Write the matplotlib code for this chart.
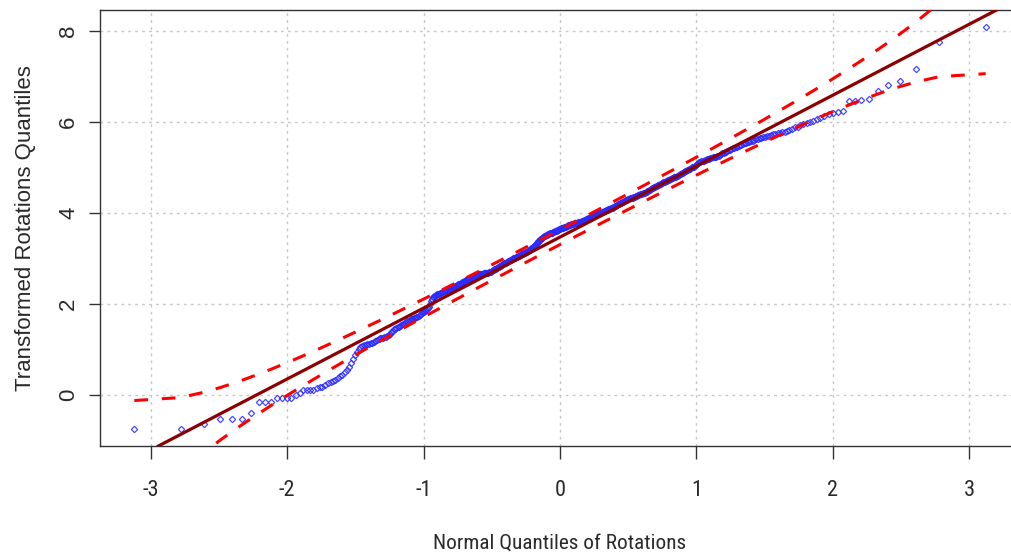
import numpy as np
import matplotlib
matplotlib.use("Agg")
import matplotlib.pyplot as plt
from statistics import NormalDist

# Transformed rotation values (sorted sample)
rotations_transformed = [
    -0.75, -0.75, -0.64, -0.53, -0.53, -0.53, -0.39, -0.15, -0.15, -0.15,
    -0.06, -0.06, -0.06, -0.06, 0.00, 0.05, 0.10, 0.12, 0.12, 0.12,
    0.15, 0.18, 0.18, 0.22, 0.27, 0.29, 0.31, 0.34, 0.38, 0.42,
    0.45, 0.50, 0.55, 0.62, 0.70, 0.80, 0.88, 0.95, 1.02, 1.06,
    1.08, 1.10, 1.11, 1.12, 1.13, 1.14, 1.15, 1.17, 1.19, 1.21,
    1.23, 1.25,
    1.26, 1.26, 1.27, 1.28, 1.30, 1.32, 1.35, 1.38, 1.41, 1.44, 1.46, 1.47,
    1.49, 1.50, 1.52, 1.54, 1.55, 1.57, 1.59, 1.60, 1.62, 1.63, 1.65,
    1.66, 1.67, 1.68, 1.69, 1.70, 1.71, 1.72, 1.74, 1.76, 1.78, 1.80, 1.82, 1.83,
    1.85, 1.87, 1.89, 1.92, 1.94,
    2.00, 2.06, 2.11, 2.16,
    2.17, 2.18, 2.19, 2.20, 2.21, 2.22, 2.23, 2.24,
    2.25, 2.26, 2.27, 2.28, 2.29, 2.30, 2.30, 2.31, 2.32, 2.32, 2.33, 2.34, 2.35, 2.36, 2.37,
    2.38, 2.39, 2.40, 2.41, 2.42, 2.43, 2.44, 2.45, 2.46, 2.47,
    2.48, 2.49, 2.50, 2.51, 2.52, 2.53, 2.54, 2.55, 2.55, 2.56,
    2.57, 2.57, 2.58, 2.59, 2.60, 2.61, 2.62, 2.62, 2.63, 2.64,
    2.65, 2.66, 2.66, 2.66, 2.67, 2.67, 2.67, 2.67, 2.68, 2.68,
    2.68, 2.68, 2.69, 2.69, 2.69, 2.70, 2.70, 2.70,
    2.71, 2.72, 2.73, 2.74, 2.75, 2.76, 2.77, 2.78, 2.79, 2.80,
    2.81, 2.82, 2.82, 2.83, 2.84, 2.85, 2.86, 2.87, 2.88, 2.89,
    2.90, 2.91, 2.91, 2.92, 2.93, 2.94, 2.94, 2.95,
    2.96, 2.97, 2.97, 2.98, 2.99, 3.00, 3.00, 3.01, 3.02, 3.03,
    3.03, 3.04, 3.05, 3.06, 3.06, 3.07, 3.08, 3.09, 3.09, 3.10,
    3.11, 3.12, 3.12, 3.13, 3.14, 3.15, 3.15, 3.16, 3.17, 3.18,
    3.18, 3.19,
    3.20, 3.22, 3.23, 3.25, 3.26, 3.28, 3.29, 3.30, 3.32, 3.33,
    3.35, 3.36, 3.38, 3.39, 3.41, 3.42, 3.43, 3.45, 3.46, 3.47, 3.48,
    3.49, 3.49, 3.50, 3.51, 3.51, 3.52, 3.53, 3.53, 3.54, 3.55,
    3.55, 3.56, 3.57, 3.57, 3.58, 3.59, 3.59, 3.60, 3.60, 3.61, 3.61, 3.62,
    3.63, 3.63, 3.64, 3.64, 3.65, 3.66, 3.66, 3.67, 3.67, 3.68,
    3.69, 3.69, 3.70, 3.70, 3.71, 3.72, 3.72, 3.73, 3.73, 3.74,
    3.74, 3.75, 3.75, 3.76, 3.76, 3.76, 3.77, 3.77, 3.78, 3.78,
    3.78, 3.79, 3.79, 3.80, 3.80, 3.80, 3.81, 3.81, 3.82, 3.82, 3.82, 3.83,
    3.84, 3.84, 3.85, 3.86, 3.86, 3.87, 3.88, 3.89, 3.89, 3.90,
    3.91, 3.91, 3.92, 3.93, 3.93, 3.94, 3.94, 3.95, 3.95, 3.96, 3.96,
    3.97, 3.98, 3.98, 3.99, 4.00, 4.00, 4.01, 4.02, 4.02, 4.03,
    4.04, 4.04, 4.05, 4.06, 4.06, 4.07, 4.08, 4.08, 4.09, 4.09, 4.10,
    4.11, 4.12, 4.12, 4.13, 4.14, 4.15, 4.16, 4.16, 4.17, 4.18,
    4.19, 4.20, 4.20, 4.21, 4.22, 4.23, 4.24, 4.24, 4.25, 4.26,
    4.27, 4.28, 4.28, 4.29,
    4.30, 4.30, 4.31, 4.32, 4.32, 4.33, 4.34, 4.34, 4.35, 4.36,
    4.36, 4.37, 4.38, 4.38, 4.39, 4.40, 4.40, 4.41, 4.41, 4.42,
    4.42, 4.43, 4.43,
    4.44, 4.45, 4.46, 4.47, 4.48, 4.49, 4.50, 4.51, 4.52, 4.53,
    4.54, 4.55, 4.56, 4.57, 4.58, 4.59, 4.60, 4.61, 4.61, 4.62,
    4.63, 4.64, 4.65, 4.66, 4.67, 4.68, 4.69, 4.70, 4.71, 4.72,
    4.72, 4.73, 4.74, 4.75, 4.76, 4.77, 4.78, 4.79, 4.79, 4.80,
    4.81, 4.82, 4.83, 4.85, 4.86, 4.87, 4.88, 4.89, 4.90, 4.92,
    4.93, 4.94, 4.95, 4.96, 4.97, 4.99, 5.00, 5.01, 5.02,
    5.04, 5.06, 5.08, 5.10, 5.12, 5.13,
    5.14, 5.15, 5.15, 5.16, 5.17, 5.18, 5.19, 5.19, 5.20, 5.21,
    5.22, 5.22, 5.23, 5.24, 5.25,
    5.26, 5.28, 5.29, 5.31, 5.32, 5.34, 5.35, 5.37, 5.38, 5.39, 5.41, 5.42,
    5.43, 5.45, 5.46, 5.48, 5.49, 5.50, 5.52, 5.53, 5.54, 5.56, 5.57,
    5.58, 5.59, 5.61, 5.62, 5.63, 5.64, 5.65, 5.67, 5.68,
    5.69, 5.70, 5.72, 5.73, 5.74, 5.75, 5.76, 5.78, 5.79,
    5.81, 5.83, 5.85, 5.88, 5.90, 5.93,
    5.95, 5.98, 6.01, 6.03, 6.06,
    6.09, 6.13, 6.17, 6.20, 6.22, 6.23,
    6.45, 6.45, 6.48, 6.50, 6.69, 6.81, 6.89, 7.16, 7.75, 8.09,
]

x_ticks = [-3, -2, -1, 0, 1, 2, 3]
y_ticks = [0, 2, 4, 6, 8]

# Reference line and envelope settings
line_intercept = 3.47
line_slope = 1.56
conf_level = 0.95

x_label = "Normal Quantiles of Rotations"
y_label = "Transformed Rotations Quantiles"

plt.rcParams["axes.unicode_minus"] = False
plt.rcParams["font.family"] = ["Liberation Sans", "DejaVu Sans"]
narrow = ["Liberation Sans Narrow", "Arial Narrow", "Roboto Condensed",
          "PT Sans Narrow", "Archivo Narrow", "Liberation Sans", "DejaVu Sans"]

# Theoretical normal quantiles and pointwise confidence envelope
y = np.sort(np.asarray(rotations_transformed, dtype=float))
n = len(y)
nd = NormalDist()
probs = (np.arange(1, n + 1) - 0.5) / n
z = np.array([nd.inv_cdf(p) for p in probs])
fit = line_intercept + line_slope * z
zz = nd.inv_cdf(1 - (1 - conf_level) / 2)
dens = np.array([nd.pdf(v) for v in z])
se = (line_slope / dens) * np.sqrt(probs * (1 - probs) / n)
upper = fit + zz * se
lower = fit - zz * se

W, H = 1012, 556
fig = plt.figure(figsize=(W / 100, H / 100), dpi=100)
ax = fig.add_axes([100 / W, 110 / H, 920 / W, 436 / H])

ax.set_xlim(-3.37, 3.37)
ax.set_ylim(-1.12, 8.46)
ax.set_xticks(x_ticks)
ax.set_yticks(y_ticks)

ax.grid(True, color="#c8c8c8", linestyle=(0, (2, 3)), linewidth=1.0)
ax.set_axisbelow(True)

ax.plot(z, y, linestyle="none", marker="D", ms=3.2, mfc="none",
        mec="#2a2aff", mew=0.9, alpha=0.85, zorder=3)
ax.axline((0, line_intercept), slope=line_slope, color="#8b0000", lw=2.3, zorder=4)
ax.plot(z, upper, color="#ff0000", lw=2.2, dashes=(4.5, 4.5), zorder=5)
ax.plot(z, lower, color="#ff0000", lw=2.2, dashes=(4.5, 4.5), zorder=5)

for s in ax.spines.values():
    s.set_color("#333333")
    s.set_linewidth(1.0)

ax.tick_params(axis="x", length=9.5, width=1.0, color="#333333", pad=15,
               labelsize=16, labelcolor="#2a2a2a")
ax.tick_params(axis="y", length=8, width=1.0, color="#333333", pad=7,
               labelsize=16, labelcolor="#2a2a2a")
for lab in ax.get_xticklabels():
    lab.set_fontfamily(narrow)
for lab in ax.get_yticklabels():
    lab.set_rotation(90)
    lab.set_va("center")

ax.set_xlabel(x_label, fontsize=15.3, color="#2a2a2a", fontfamily=narrow)
ax.xaxis.set_label_coords(0.5, -0.222)
ax.xaxis.label.set_va("center")
ax.set_ylabel(y_label, fontsize=16, color="#2a2a2a")
ax.yaxis.set_label_coords(-0.081, 0.5)
ax.yaxis.label.set_va("center")

fig.savefig("out.png", dpi=100)
